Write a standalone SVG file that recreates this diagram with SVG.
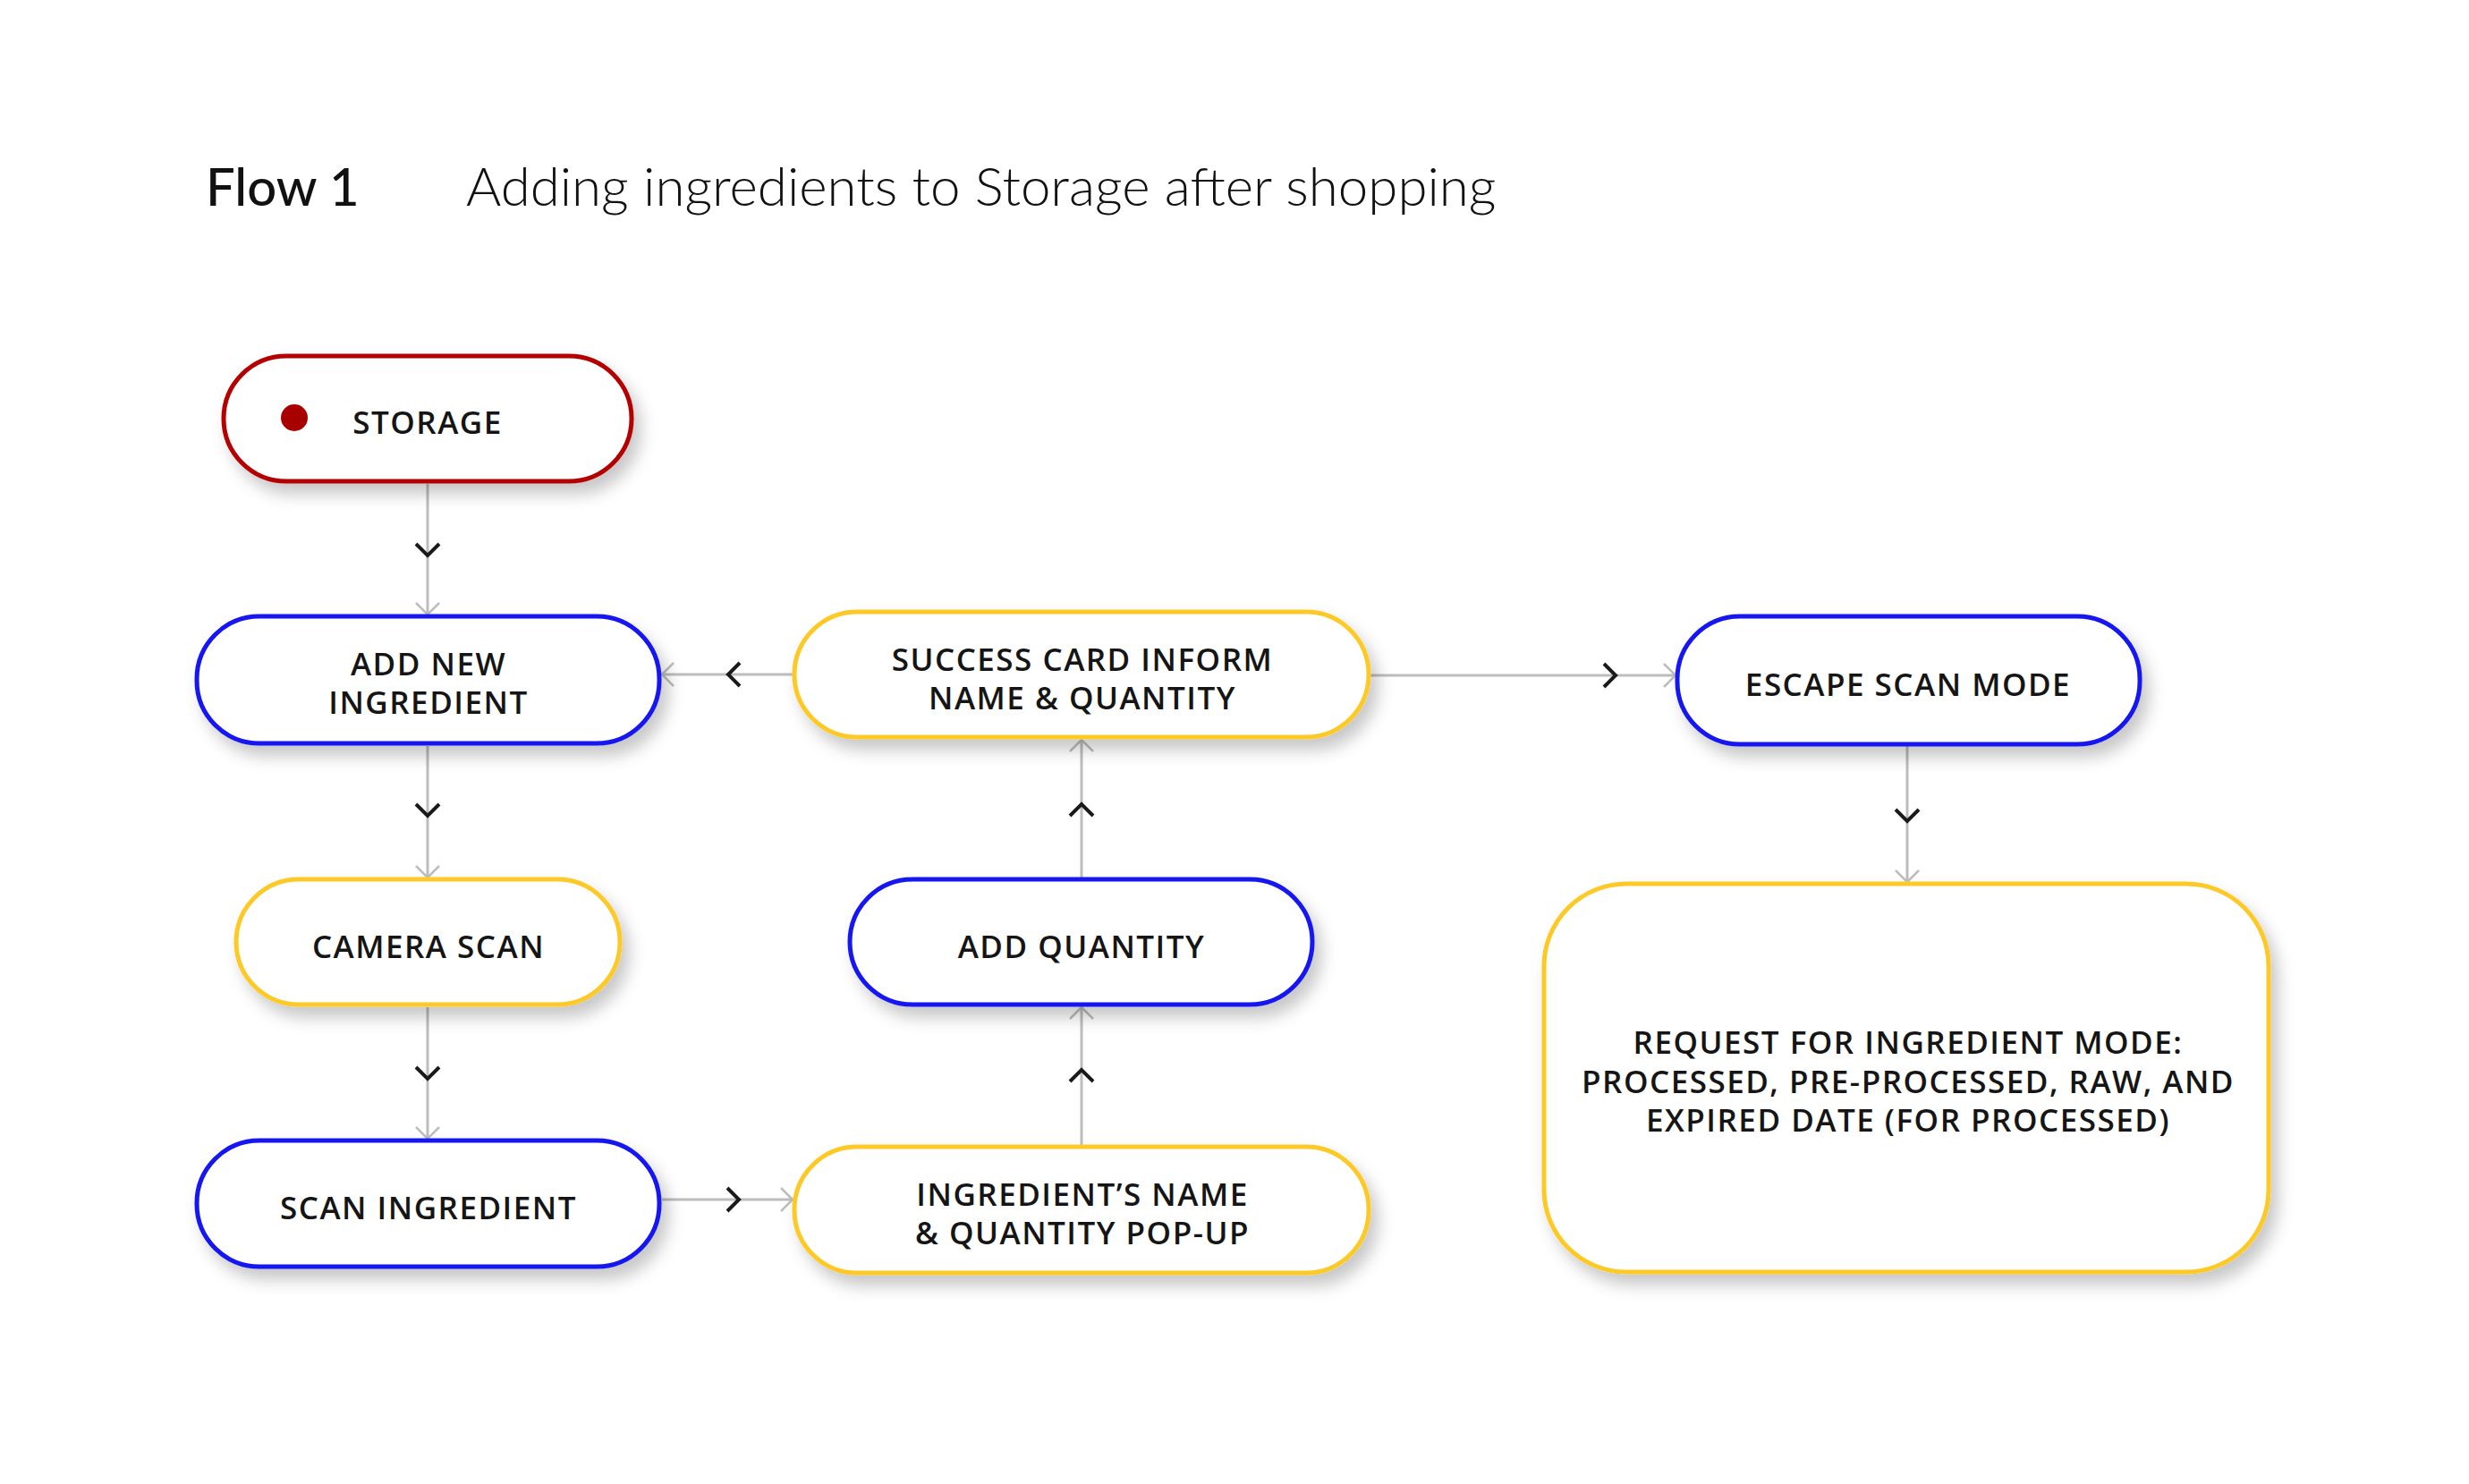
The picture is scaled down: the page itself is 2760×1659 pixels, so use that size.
<svg xmlns="http://www.w3.org/2000/svg" width="2760" height="1659" viewBox="0 0 2760 1659">
<style>
.title1{font-family:Lato,"Liberation Sans",sans-serif;font-size:58px;font-weight:500;fill:#111}
.title2{font-family:Lato,"Liberation Sans",sans-serif;font-size:60px;font-weight:300;fill:#111}
.node{fill:#fff;stroke-width:5;filter:url(#sh)}
.red{stroke:#B40000}
.blue{stroke:#1414F0}
.yel{stroke:#FDC928}
.lbl{font-family:"Open Sans","Liberation Sans",sans-serif;font-size:35px;font-weight:600;letter-spacing:1.5px;fill:#151515;text-anchor:middle}
.conn{fill:none;stroke:#BDBDBD;stroke-width:3;marker-mid:url(#chev);marker-end:url(#arr)}
</style>
<defs>
<filter id="sh" x="-20%" y="-30%" width="140%" height="170%">
<feDropShadow dx="8" dy="12" stdDeviation="9" flood-color="#000" flood-opacity="0.22"/>
</filter>
<marker id="arr" markerUnits="userSpaceOnUse" viewBox="-16 -16 18 32" markerWidth="18" markerHeight="32" refX="0" refY="0" orient="auto">
<path d="M -13 -13 L 0 0 L -13 13" fill="none" stroke="#BDBDBD" stroke-width="2.5"/>
</marker>
<marker id="chev" markerUnits="userSpaceOnUse" viewBox="-12 -16 24 32" markerWidth="24" markerHeight="32" refX="0" refY="0" orient="auto">
<path d="M -7 -13 L 6 0 L -7 13" fill="none" stroke="#1a1a1a" stroke-width="4"/>
</marker>
</defs>
<rect width="2760" height="1659" fill="#fff"/>
<text class="title1" x="230" y="230">Flow 1</text>
<text class="title2" x="521" y="230">Adding ingredients to Storage after shopping</text>
<g id="connectors">
<path class="conn" d="M 478 541 L 478 615 L 478 687"/>
<path class="conn" d="M 478 834 L 478 906 L 478 981"/>
<path class="conn" d="M 478 1126 L 478 1200 L 478 1273"/>
<path class="conn" d="M 740 1341 L 820 1341 L 886 1341"/>
<path class="conn" d="M 1209 1280 L 1209 1202 L 1209 1126"/>
<path class="conn" d="M 1209 981 L 1209 905 L 1209 827"/>
<path class="conn" d="M 886 754 L 820 754 L 740 754"/>
<path class="conn" d="M 1532 755 L 1800 755 L 1873 755"/>
<path class="conn" d="M 2132 834 L 2132 912 L 2132 986"/>
</g>
<g id="storage">
<rect class="node red" x="250" y="398" width="456" height="140" rx="70"/>
<circle cx="329" cy="467" r="15" fill="#A80000"/>
<text class="lbl" x="478" y="485">STORAGE</text>
</g>
<g id="add-new-ingredient">
<rect class="node blue" x="220" y="689" width="517" height="142" rx="70"/>
<text class="lbl" x="479" y="755">ADD NEW</text>
<text class="lbl" x="479" y="798">INGREDIENT</text>
</g>
<g id="camera-scan">
<rect class="node yel" x="264" y="983" width="429" height="140" rx="70"/>
<text class="lbl" x="479" y="1071">CAMERA SCAN</text>
</g>
<g id="scan-ingredient">
<rect class="node blue" x="220" y="1275" width="517" height="141" rx="70"/>
<text class="lbl" x="479" y="1363">SCAN INGREDIENT</text>
</g>
<g id="success-card">
<rect class="node yel" x="888" y="684" width="642" height="140" rx="70"/>
<text class="lbl" x="1210" y="750">SUCCESS CARD INFORM</text>
<text class="lbl" x="1210" y="793">NAME &amp; QUANTITY</text>
</g>
<g id="add-quantity">
<rect class="node blue" x="950" y="983" width="517" height="140" rx="70"/>
<text class="lbl" x="1209" y="1071">ADD QUANTITY</text>
</g>
<g id="ingredient-name-popup">
<rect class="node yel" x="888" y="1282" width="642" height="141" rx="70"/>
<text class="lbl" x="1210" y="1348">INGREDIENT’S NAME</text>
<text class="lbl" x="1210" y="1391">&amp; QUANTITY POP-UP</text>
</g>
<g id="escape-scan-mode">
<rect class="node blue" x="1875" y="689" width="517" height="143" rx="70"/>
<text class="lbl" x="2133" y="778">ESCAPE SCAN MODE</text>
</g>
<g id="request-mode">
<rect class="node yel" x="1726" y="988" width="810" height="434" rx="92"/>
<text class="lbl" x="2133" y="1178">REQUEST FOR INGREDIENT MODE:</text>
<text class="lbl" x="2133" y="1222">PROCESSED, PRE-PROCESSED, RAW, AND</text>
<text class="lbl" x="2133" y="1265">EXPIRED DATE (FOR PROCESSED)</text>
</g>
</svg>
